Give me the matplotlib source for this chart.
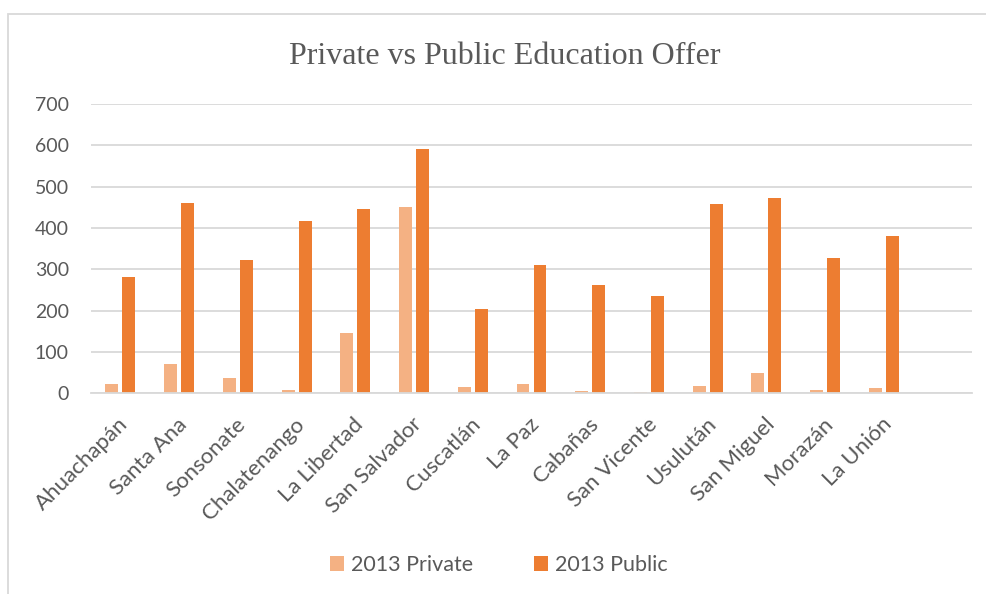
import matplotlib
matplotlib.use('Agg')
import matplotlib.pyplot as plt
import matplotlib.transforms as mtransforms
import numpy as np
from matplotlib.patches import Rectangle

# values
departments = ['Ahuachapán', 'Santa Ana', 'Sonsonate', 'Chalatenango', 'La Libertad',
               'San Salvador', 'Cuscatlán', 'La Paz', 'Cabañas', 'San Vicente',
               'Usulután', 'San Miguel', 'Morazán', 'La Unión', '']
private_2013 = [23, 72, 36, 8, 145, 451, 16, 23, 6, 3, 18, 49, 8, 14, np.nan]
public_2013 = [281, 460, 322, 416, 445, 590, 205, 311, 263, 236, 458, 472, 328, 380, np.nan]
y_ticks = [0, 100, 200, 300, 400, 500, 600, 700]

TEXT = '#595959'
GRID = '#d9d9d9'
C_PRIV = '#F4B183'
C_PUB = '#ED7D31'

plt.rcParams['font.family'] = ['Lato', 'DejaVu Sans']

fig = plt.figure(figsize=(9.87, 5.94), dpi=100)
ax = fig.add_axes([91 / 987, 1 - 393.3 / 594, (972 - 91) / 987, (393.3 - 104) / 594])

x = np.arange(len(departments))
w = 0.22
ax.bar(x - 0.145, private_2013, w, color=C_PRIV, label='2013 Private', zorder=3)
ax.bar(x + 0.145, public_2013, w, color=C_PUB, label='2013 Public', zorder=3)

ax.set_xlim(-0.5, len(departments) - 0.5)
ax.set_ylim(0, 700)
ax.set_yticks(y_ticks)
ax.set_yticklabels([str(v) for v in y_ticks], fontsize=14, color=TEXT)
ax.set_xticks(x)
ax.set_xticklabels(departments, fontsize=16, color=TEXT, rotation=45,
                   ha='right', va='center', rotation_mode='anchor')
ax.tick_params(axis='y', length=0, pad=16)
ax.tick_params(axis='x', length=0, pad=20)
# nudge the rotated labels a little to the right
shift = mtransforms.ScaledTranslation(5 / 100, 0, fig.dpi_scale_trans)
for lbl in ax.get_xticklabels():
    lbl.set_transform(lbl.get_transform() + shift)

ax.grid(axis='y', color=GRID, linewidth=1.3, zorder=0)
for s in ['top', 'right', 'left']:
    ax.spines[s].set_visible(False)
ax.spines['bottom'].set_color(GRID)
ax.spines['bottom'].set_linewidth(1.3)
ax.spines['bottom'].set_zorder(4)

fig.text(505 / 987, 1 - 64 / 594, 'Private vs Public Education Offer',
         family='Liberation Serif', fontsize=23, color=TEXT, ha='center', va='baseline')

fig.legend(loc='center', bbox_to_anchor=(499 / 987, 1 - 565 / 594), ncol=2,
           frameon=False, fontsize=15.5, labelcolor=TEXT, handlelength=0.65,
           handleheight=0.65, handletextpad=0.3, columnspacing=2.85)

# chart border (cropped at right and bottom)
fig.patches.append(Rectangle((8 / 987, -0.1), 1.2, 1 - 14 / 594 + 0.1,
                             transform=fig.transFigure, fill=False,
                             edgecolor=GRID, linewidth=1.3))

fig.savefig('out.png', dpi=100)
